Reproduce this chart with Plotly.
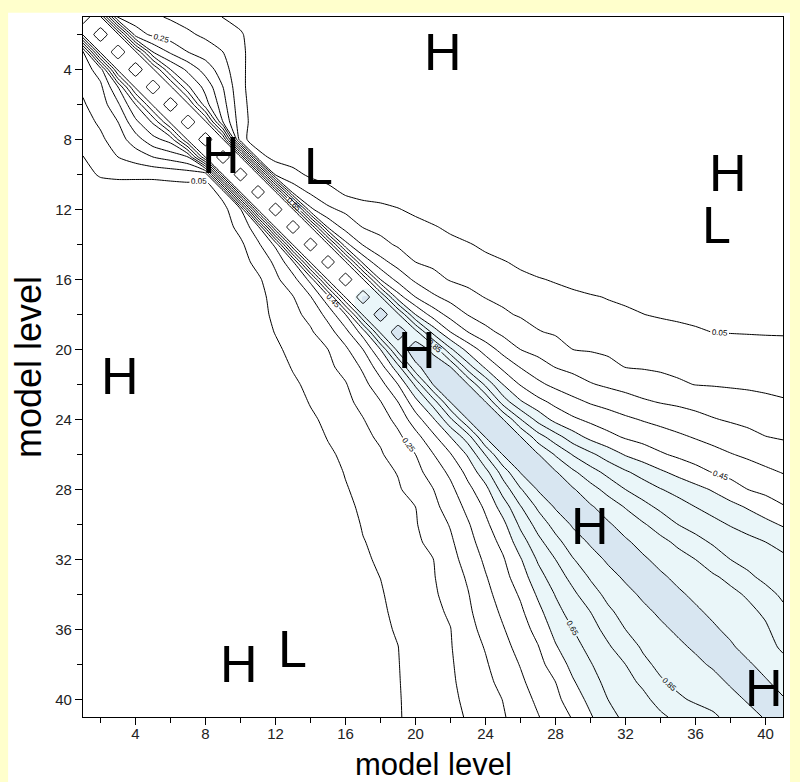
import numpy as np
import plotly.graph_objects as go

# model levels (1 = top of model, 41 = bottom)
levels = list(range(1, 42))

# Upper-triangle correlation values:
# upper_rows[i-1] = [c(i,i+1), c(i,i+2), ...]; entries not listed are ~0.
upper_rows = [
    [0.87, 0.226, 0.196, 0.165, 0.14, 0.113, 0.08, 0.048, 0.02, 0.0],           # 1
    [0.87, 0.30, 0.228, 0.197, 0.166, 0.131, 0.094, 0.06, 0.0],                 # 2
    [0.87, 0.45, 0.333, 0.25, 0.2, 0.15, 0.07, 0.0],                            # 3
    [0.87, 0.55, 0.425, 0.306, 0.194, 0.07, 0.0],                               # 4
    [0.87, 0.564, 0.417, 0.25, 0.07, 0.0],                                      # 5
    [0.87, 0.49, 0.29, 0.08, 0.0],                                              # 6
    [0.87, 0.35, 0.09, 0.0],                                                    # 7
    [0.86, 0.08, 0.0],                                                          # 8
    [0.86, 0.085, 0.02],                                                        # 9
    [0.86, 0.133, 0.083, 0.03, 0.0],                                            # 10
    [0.86, 0.214, 0.133, 0.089, 0.03, 0.0],                                     # 11
    [0.86, 0.27, 0.168, 0.13, 0.105, 0.08, 0.055, 0.03, 0.0],                   # 12
    [0.86, 0.333, 0.212, 0.146, 0.124, 0.102, 0.08, 0.059, 0.03, 0.0],          # 13
    [0.86, 0.38, 0.243, 0.177, 0.138, 0.118, 0.098, 0.078, 0.058, 0.03, 0.0],   # 14
    [0.86, 0.417, 0.283, 0.209, 0.15, 0.131, 0.113, 0.094, 0.076, 0.057,
     0.03, 0.0],                                                                # 15
    [0.86, 0.45, 0.317, 0.23, 0.18, 0.143, 0.126, 0.109, 0.092, 0.075,
     0.058, 0.04, 0.02],                                                        # 16
    [0.865, 0.494, 0.35, 0.267, 0.218, 0.178, 0.146, 0.131, 0.117, 0.102,
     0.088, 0.073, 0.059, 0.045, 0.035, 0.03, 0.03, 0.03, 0.025, 0.025,
     0.025, 0.02, 0.02, 0.02],                                                  # 17
    [0.87, 0.55, 0.406, 0.314, 0.246, 0.204, 0.163, 0.141, 0.128, 0.115,
     0.103, 0.09, 0.077, 0.064, 0.051, 0.042, 0.036, 0.033, 0.032, 0.031,
     0.03, 0.03, 0.03],                                                         # 18
    [0.89, 0.614, 0.45, 0.35, 0.279, 0.228, 0.191, 0.154, 0.141, 0.13,
     0.12, 0.11, 0.099, 0.089, 0.079, 0.069, 0.058, 0.049, 0.047, 0.046,
     0.045, 0.045],                                                             # 19
    [0.93, 0.67, 0.513, 0.405, 0.314, 0.25, 0.217, 0.183, 0.15, 0.143,
     0.135, 0.128, 0.12, 0.113, 0.106, 0.098, 0.091, 0.083, 0.076, 0.072,
     0.068],                                                                    # 20
    [0.95, 0.695, 0.532, 0.425, 0.345, 0.295, 0.247, 0.224, 0.199, 0.173,
     0.148, 0.143, 0.137, 0.131, 0.126, 0.12, 0.114, 0.109, 0.103, 0.097],      # 21
    [0.952, 0.73, 0.55, 0.443, 0.371, 0.326, 0.291, 0.257, 0.235, 0.217,
     0.198, 0.18, 0.161, 0.148, 0.144, 0.139, 0.135, 0.13, 0.126],              # 22
    [0.953, 0.705, 0.5625, 0.481, 0.423, 0.377, 0.34, 0.314, 0.288, 0.263,
     0.245, 0.233, 0.22, 0.207, 0.195, 0.183, 0.17, 0.158],                     # 23
    [0.955, 0.755, 0.617, 0.518, 0.466, 0.429, 0.399, 0.368, 0.343, 0.322,
     0.301, 0.278, 0.256, 0.24, 0.227, 0.213, 0.2],                             # 24
    [0.955, 0.795, 0.692, 0.594, 0.523, 0.477, 0.44, 0.416, 0.391, 0.367,
     0.343, 0.32, 0.298, 0.275, 0.252, 0.242],                                  # 25
    [0.956, 0.84, 0.743, 0.671, 0.603, 0.542, 0.502, 0.462, 0.432, 0.406,
     0.381, 0.355, 0.333, 0.311, 0.29],                                         # 26
    [0.958, 0.867, 0.788, 0.721, 0.662, 0.612, 0.564, 0.522, 0.482, 0.445,
     0.419, 0.394, 0.368, 0.345],                                               # 27
    [0.96, 0.888, 0.817, 0.75, 0.702, 0.655, 0.618, 0.58, 0.541, 0.495,
     0.45, 0.425, 0.4],                                                         # 28
    [0.962, 0.906, 0.844, 0.781, 0.73, 0.69, 0.65, 0.614, 0.579, 0.541,
     0.5, 0.458],                                                               # 29
    [0.962, 0.913, 0.861, 0.806, 0.75, 0.714, 0.679, 0.643, 0.61, 0.577,
     0.54],                                                                     # 30
    [0.963, 0.921, 0.877, 0.83, 0.78, 0.738, 0.709, 0.679, 0.65, 0.62],         # 31
    [0.963, 0.925, 0.887, 0.85, 0.8, 0.75, 0.723, 0.697, 0.67],                 # 32
    [0.964, 0.93, 0.897, 0.863, 0.826, 0.766, 0.729, 0.70],                     # 33
    [0.964, 0.933, 0.904, 0.874, 0.838, 0.779, 0.735],                          # 34
    [0.964, 0.933, 0.904, 0.874, 0.834, 0.77],                                  # 35
    [0.963, 0.93, 0.897, 0.865, 0.80],                                          # 36
    [0.962, 0.92, 0.88, 0.836],                                                 # 37
    [0.962, 0.92, 0.875],                                                       # 38
    [0.96, 0.917],                                                              # 39
    [0.958],                                                                    # 40
    [],                                                                         # 41
]

# H / L extremum markers (text, x level, y level)
hl_text = ["H", "H", "L", "H", "L", "H", "H", "H", "H", "H", "L"]
hl_x = [21.57, 8.86, 14.46, 37.86, 37.2, 3.09, 20.1, 29.97, 39.9, 9.94, 12.97]
hl_y = [3.0, 8.9, 9.54, 9.94, 12.9, 21.5, 20.0, 30.06, 39.35, 37.95, 37.1]

major_ticks = [4, 8, 12, 16, 20, 24, 28, 32, 36, 40]
minor_ticks = [2, 6, 10, 14, 18, 22, 26, 30, 34, 38]
axis_title = "model level"

# ---- build the symmetric matrix ----
n = len(levels)
Z = np.eye(n)
for i, row in enumerate(upper_rows):
    for k, v in enumerate(row):
        j = i + 1 + k
        if j < n:
            Z[i, j] = v
            Z[j, i] = v

# shading only applies to the lower part of the diagonal band
Zs = Z.copy()
lv = np.array(levels)
outside = (lv < 17)[:, None] | (lv < 17)[None, :]
Zs[outside] = 0.0

FONT = "Liberation Sans, Arial, Helvetica, sans-serif"

fig = go.Figure()

fig.add_trace(go.Contour(
    x=levels, y=levels, z=Zs,
    contours=dict(type="constraint", operation="<", value=0.55),
    fillcolor="#EAF6F9", line=dict(width=0), showscale=False,
    hoverinfo="skip"))
fig.add_trace(go.Contour(
    x=levels, y=levels, z=Zs,
    contours=dict(type="constraint", operation="<", value=0.95),
    fillcolor="#D8E6F1", line=dict(width=0), showscale=False,
    hoverinfo="skip"))

# unlabelled contours 0.15 ... 0.75
fig.add_trace(go.Contour(
    x=levels, y=levels, z=Z, autocontour=False,
    contours=dict(start=0.15, end=0.75, size=0.2, coloring="none",
                  showlabels=False),
    line=dict(width=1, color="black", smoothing=0.6), showscale=False,
    hoverinfo="skip"))
# 0.95 contour (follows the grid)
fig.add_trace(go.Contour(
    x=levels, y=levels, z=Z, autocontour=False,
    contours=dict(start=0.95, end=0.95, size=0.1, coloring="none",
                  showlabels=False),
    line=dict(width=1, color="black", smoothing=0.3), showscale=False,
    hoverinfo="skip"))
# labelled contours 0.05 ... 0.85
fig.add_trace(go.Contour(
    x=levels, y=levels, z=Z, autocontour=False,
    contours=dict(start=0.05, end=0.85, size=0.2, coloring="none",
                  showlabels=True, labelformat=".2f",
                  labelfont=dict(size=8, color="black", family=FONT)),
    line=dict(width=1, color="black", smoothing=0.6), showscale=False,
    hoverinfo="skip"))

for t, xx, yy in zip(hl_text, hl_x, hl_y):
    fig.add_annotation(x=xx, y=yy, text=t, showarrow=False,
                       xanchor="center", yanchor="middle",
                       font=dict(size=52, color="black", family=FONT))

# x-axis title placed just under the tick labels
fig.add_annotation(x=0.5, y=-0.0943, xref="paper", yref="paper",
                   text=axis_title, showarrow=False, borderpad=0,
                   xanchor="center", yanchor="bottom",
                   font=dict(size=31, color="black", family=FONT))

axis_common = dict(
    range=[1, 41], tickmode="array", tickvals=major_ticks,
    ticktext=[str(v) for v in major_ticks],
    ticks="outside", ticklen=7, tickwidth=1, tickcolor="black",
    minor=dict(tickmode="array", tickvals=minor_ticks, ticks="outside",
               ticklen=5, tickwidth=1, tickcolor="black"),
    showline=True, mirror=True, linecolor="black", linewidth=1.2,
    showgrid=False, zeroline=False, automargin=False,
    tickfont=dict(size=15, color="#222", family=FONT),
)

fig.update_layout(
    width=800, height=782,
    margin=dict(l=83, r=17, t=17, b=65),
    paper_bgcolor="#FFFFCC", plot_bgcolor="white",
    showlegend=False,
    xaxis=dict(**axis_common, ticklabelstandoff=-4),
    yaxis=dict(**{**axis_common, "range": [41, 1]},
               title=dict(text=axis_title, standoff=2,
                          font=dict(size=36, color="black", family=FONT))),
    shapes=[dict(type="rect", xref="paper", yref="paper",
                 x0=-0.107, x1=1.01, y0=-0.093, y1=1.006,
                 fillcolor="white", line=dict(width=0), layer="below")],
)

fig.write_html("out.html")
